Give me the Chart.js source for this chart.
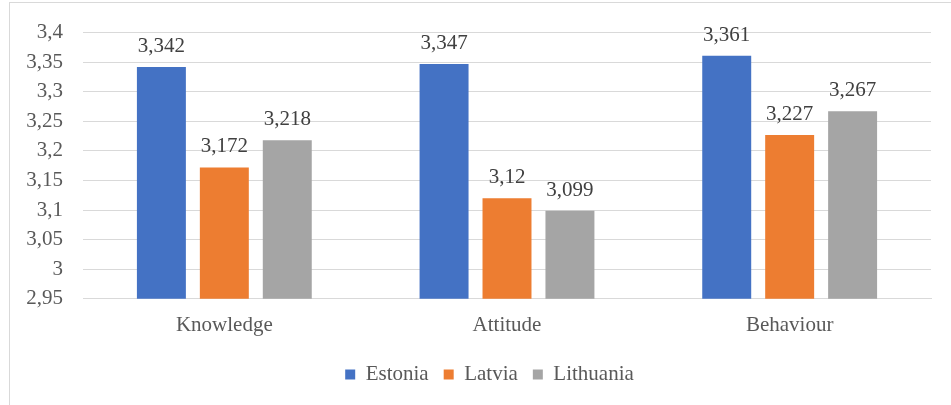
<!DOCTYPE html>
<html>
<head>
<meta charset="utf-8">
<script src="https://cdn.jsdelivr.net/npm/chart.js@4/dist/chart.umd.min.js"></script>
<style>
  html, body { margin: 0; padding: 0; background: #fff; overflow: hidden; }
  #wrap { position: relative; width: 951px; height: 405px; }
  #frame { position: absolute; left: 9px; top: 2px; width: 1000px; height: 500px; border: 1px solid #d9d9d9; box-sizing: border-box; pointer-events: none; }
  canvas { position: absolute; left: 0; top: 0; }
</style>
</head>
<body>
<div id="wrap">
  <canvas id="chart" width="951" height="405"></canvas>
  <div id="frame"></div>
</div>
<script>
// values per country
const categories = ['Knowledge', 'Attitude', 'Behaviour'];
const estonia = [3.342, 3.347, 3.361];
const latvia = [3.172, 3.12, 3.227];
const lithuania = [3.218, 3.099, 3.267];
const yTicks = [2.95, 3, 3.05, 3.1, 3.15, 3.2, 3.25, 3.3, 3.35, 3.4];

const serif = '"Liberation Serif", "Times New Roman", serif';
const comma = v => String(Number(v.toFixed(3))).replace('.', ',');

// value labels above the bars
const barLabels = {
  id: 'barLabels',
  afterDatasetsDraw(chart) {
    const ctx = chart.ctx;
    ctx.save();
    ctx.font = '21px ' + serif;
    ctx.fillStyle = '#404040';
    ctx.textAlign = 'center';
    ctx.textBaseline = 'alphabetic';
    chart.data.datasets.forEach((ds, i) => {
      chart.getDatasetMeta(i).data.forEach((bar, j) => {
        ctx.fillText(comma(ds.data[j]), bar.x, bar.y - 15);
      });
    });
    ctx.restore();
  }
};

// nudge the legend a bit to the right
const legendShift = {
  id: 'legendShift',
  afterLayout(chart) {
    if (chart.legend) {
      chart.legend.left += 24;
      chart.legend.right += 24;
    }
  }
};

function draw() {
  new Chart(document.getElementById('chart'), {
    type: 'bar',
    data: {
      labels: categories,
      datasets: [
        { label: 'Estonia', data: estonia, backgroundColor: '#4472C4' },
        { label: 'Latvia', data: latvia, backgroundColor: '#ED7D31' },
        { label: 'Lithuania', data: lithuania, backgroundColor: '#A5A5A5' }
      ]
    },
    options: {
      responsive: false,
      animation: false,
      layout: { padding: { left: 0, right: 20, top: 32, bottom: 10 } },
      datasets: { bar: { categoryPercentage: 0.668, barPercentage: 0.778 } },
      scales: {
        x: {
          afterFit: s => { s.height -= 3; },
          grid: { display: false, drawTicks: false },
          border: { display: true, color: '#d9d9d9' },
          ticks: { color: '#595959', font: { family: serif, size: 21 }, padding: 14 }
        },
        y: {
          min: 2.95,
          max: 3.4,
          afterBuildTicks: s => { s.ticks = yTicks.map(v => ({ value: v })); },
          afterFit: s => { s.width = 83; },
          grid: { color: '#d9d9d9', drawTicks: false },
          border: { display: false },
          ticks: {
            color: '#595959',
            font: { family: serif, size: 21 },
            padding: 20,
            callback: v => comma(v)
          }
        }
      },
      plugins: {
        legend: {
          position: 'bottom',
          labels: {
            color: '#595959',
            font: { family: serif, size: 21 },
            boxWidth: 10,
            boxHeight: 10,
            padding: 15
          }
        },
        tooltip: { enabled: false }
      }
    },
    plugins: [barLabels, legendShift]
  });
}

document.fonts.load('21px "Liberation Serif"').then(draw, draw);
</script>
</body>
</html>
